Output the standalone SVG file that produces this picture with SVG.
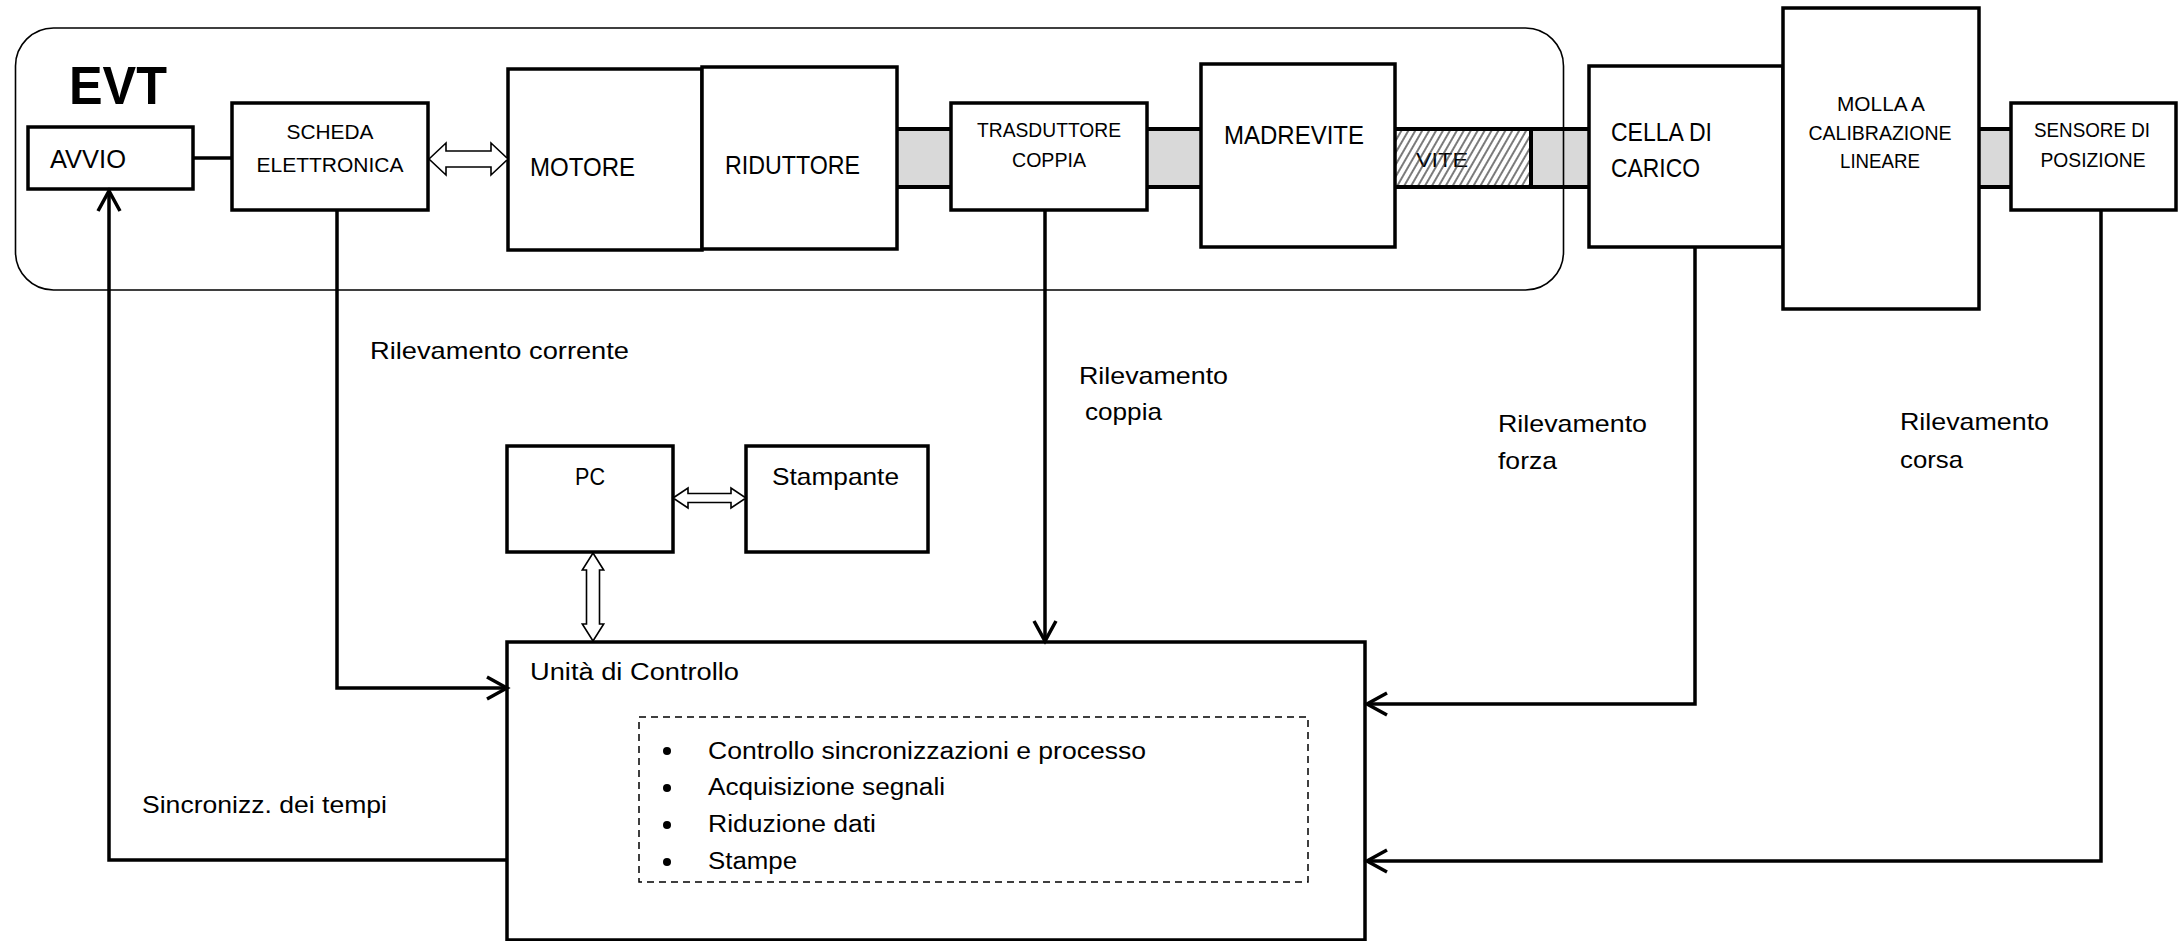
<svg xmlns="http://www.w3.org/2000/svg" width="2183" height="941" viewBox="0 0 2183 941">
<style>
text{font-family:"Liberation Sans",Arial,sans-serif;fill:#000}
.box{fill:#fff;stroke:#000;stroke-width:3.5}
.t25{font-size:25px}
.t21{font-size:21px}
.t24{font-size:24px}
.t23{font-size:23px}
.mid{text-anchor:middle}
.con{fill:none;stroke:#000;stroke-width:3.5}
.dbl{fill:#fff;stroke:#000;stroke-width:1.6;stroke-linejoin:miter}
.band{stroke:#000;stroke-width:4}
</style>
<defs>
<marker id="arr" markerUnits="userSpaceOnUse" markerWidth="26" markerHeight="28" viewBox="0 0 26 28" refX="22" refY="14" orient="auto">
<path d="M2,3 L22,14 L2,25" fill="none" stroke="#000" stroke-width="3.5"/>
</marker>
<pattern id="hatch" patternUnits="userSpaceOnUse" width="6" height="10" patternTransform="rotate(30)">
<line x1="1" y1="0" x2="1" y2="10" stroke="#333" stroke-width="1.3"/>
</pattern>
</defs>

<!-- shaft band -->
<g id="shaft">
<rect x="897" y="129" width="1115" height="58" fill="#d9d9d9"/>
<line class="band" x1="897" y1="129" x2="2012" y2="129"/>
<line class="band" x1="897" y1="187" x2="2012" y2="187"/>
</g>

<g id="vite">
<rect x="1395" y="131" width="136" height="54" fill="#fff"/>
<text class="t21" x="1416" y="167" textLength="52" lengthAdjust="spacingAndGlyphs" fill="#333">VITE</text>
<rect x="1395" y="131" width="136" height="54" fill="url(#hatch)"/>
<line class="band" x1="1531" y1="127" x2="1531" y2="189"/>
</g>

<g id="evt">
<rect x="15.5" y="28" width="1548" height="262" rx="38" ry="38" fill="none" stroke="#000" stroke-width="1.6"/>
<text x="69" y="104" font-size="54" font-weight="bold" textLength="98" lengthAdjust="spacingAndGlyphs">EVT</text>
</g>

<g id="avvio">
<rect class="box" x="28" y="127" width="165" height="62"/>
<text class="t25" x="50" y="168" textLength="76" lengthAdjust="spacingAndGlyphs">AVVIO</text>
</g>

<g id="scheda">
<rect class="box" x="232" y="103" width="196" height="107"/>
<text class="t21 mid" x="330" y="139" textLength="87" lengthAdjust="spacingAndGlyphs">SCHEDA</text>
<text class="t21 mid" x="330" y="172" textLength="147" lengthAdjust="spacingAndGlyphs">ELETTRONICA</text>
</g>

<g id="motore">
<rect class="box" x="508" y="69" width="194" height="181"/>
<text class="t25" x="530" y="176" textLength="105" lengthAdjust="spacingAndGlyphs">MOTORE</text>
</g>

<g id="riduttore">
<rect class="box" x="702" y="67" width="195" height="182"/>
<text class="t25" x="725" y="174" textLength="135" lengthAdjust="spacingAndGlyphs">RIDUTTORE</text>
</g>

<g id="trasduttore">
<rect class="box" x="951" y="103" width="196" height="107"/>
<text class="t21 mid" x="1049" y="137" textLength="144" lengthAdjust="spacingAndGlyphs">TRASDUTTORE</text>
<text class="t21 mid" x="1049" y="167" textLength="74" lengthAdjust="spacingAndGlyphs">COPPIA</text>
</g>

<g id="madrevite">
<rect class="box" x="1201" y="64" width="194" height="183"/>
<text class="t25" x="1224" y="144" textLength="140" lengthAdjust="spacingAndGlyphs">MADREVITE</text>
</g>

<g id="cella">
<rect class="box" x="1589" y="66" width="194" height="181"/>
<text class="t25" x="1611" y="141" textLength="101" lengthAdjust="spacingAndGlyphs">CELLA DI</text>
<text class="t25" x="1611" y="177" textLength="89" lengthAdjust="spacingAndGlyphs">CARICO</text>
</g>

<g id="molla">
<rect class="box" x="1783" y="8" width="196" height="301"/>
<text class="t21 mid" x="1881" y="111" textLength="88" lengthAdjust="spacingAndGlyphs">MOLLA A</text>
<text class="t21 mid" x="1880" y="140" textLength="143" lengthAdjust="spacingAndGlyphs">CALIBRAZIONE</text>
<text class="t21 mid" x="1880" y="168" textLength="80" lengthAdjust="spacingAndGlyphs">LINEARE</text>
</g>

<g id="sensore">
<rect class="box" x="2011" y="103" width="165" height="107"/>
<text class="t21 mid" x="2092" y="137" textLength="116" lengthAdjust="spacingAndGlyphs">SENSORE DI</text>
<text class="t21 mid" x="2093" y="167" textLength="105" lengthAdjust="spacingAndGlyphs">POSIZIONE</text>
</g>

<g id="pc">
<rect class="box" x="507" y="446" width="166" height="106"/>
<text class="t24" x="575" y="485" textLength="30" lengthAdjust="spacingAndGlyphs">PC</text>
</g>

<g id="stampante">
<rect class="box" x="746" y="446" width="182" height="106"/>
<text class="t24" x="772" y="485" textLength="127" lengthAdjust="spacingAndGlyphs">Stampante</text>
</g>

<g id="unita">
<rect class="box" x="507" y="642" width="858" height="298"/>
<text class="t23" x="530" y="680" textLength="209" lengthAdjust="spacingAndGlyphs">Unità di Controllo</text>
<rect x="639" y="717" width="669" height="165" fill="none" stroke="#000" stroke-width="1.5" stroke-dasharray="7 5"/>
<circle cx="667" cy="751" r="4"/>
<circle cx="667" cy="788" r="4"/>
<circle cx="667" cy="825" r="4"/>
<circle cx="667" cy="862" r="4"/>
<text class="t23" x="708" y="759" textLength="438" lengthAdjust="spacingAndGlyphs">Controllo sincronizzazioni e processo</text>
<text class="t23" x="708" y="795" textLength="237" lengthAdjust="spacingAndGlyphs">Acquisizione segnali</text>
<text class="t23" x="708" y="832" textLength="168" lengthAdjust="spacingAndGlyphs">Riduzione dati</text>
<text class="t23" x="708" y="869" textLength="89" lengthAdjust="spacingAndGlyphs">Stampe</text>
</g>

<g id="connectors">
<line class="con" x1="193" y1="158" x2="232" y2="158"/>
<polygon class="dbl" points="429,159 446,143 446,151 491,151 491,143 508,159 491,175 491,167 446,167 446,175"/>
<polygon class="dbl" points="673,498 688,488 688,493.5 731,493.5 731,488 746,498 731,508 731,502.5 688,502.5 688,508"/>
<polygon class="dbl" points="593,553 603.7,570 599.5,570 599.5,624 603.7,624 593,641 582.3,624 586.5,624 586.5,570 582.3,570"/>
<path class="con" d="M337,210 V688 H507" marker-end="url(#arr)"/>
<path class="con" d="M507,860 H109 V191" marker-end="url(#arr)"/>
<path class="con" d="M1045,210 V641" marker-end="url(#arr)"/>
<path class="con" d="M1695,247 V704 H1367" marker-end="url(#arr)"/>
<path class="con" d="M2101,210 V861 H1367" marker-end="url(#arr)"/>
<text class="t24" x="370" y="359" textLength="259" lengthAdjust="spacingAndGlyphs">Rilevamento corrente</text>
<text class="t24" x="1079" y="384" textLength="149" lengthAdjust="spacingAndGlyphs">Rilevamento</text>
<text class="t24" x="1085" y="420" textLength="77" lengthAdjust="spacingAndGlyphs">coppia</text>
<text class="t24" x="1498" y="432" textLength="149" lengthAdjust="spacingAndGlyphs">Rilevamento</text>
<text class="t24" x="1498" y="469" textLength="59" lengthAdjust="spacingAndGlyphs">forza</text>
<text class="t24" x="1900" y="430" textLength="149" lengthAdjust="spacingAndGlyphs">Rilevamento</text>
<text class="t24" x="1900" y="468" textLength="63" lengthAdjust="spacingAndGlyphs">corsa</text>
<text class="t24" x="142" y="813" textLength="245" lengthAdjust="spacingAndGlyphs">Sincronizz. dei tempi</text>
</g>
</svg>
